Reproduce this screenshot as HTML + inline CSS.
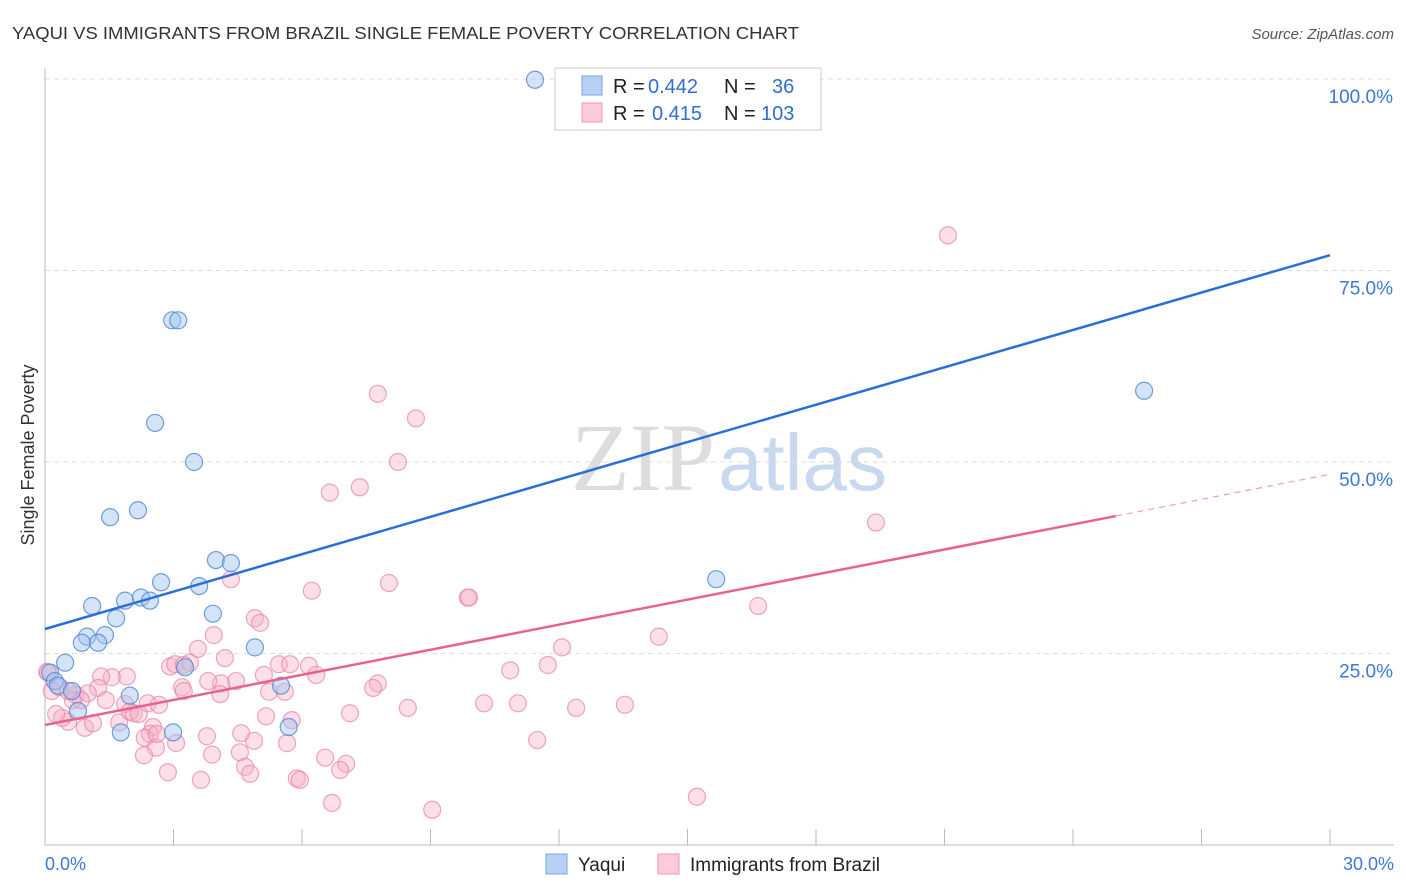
<!DOCTYPE html>
<html><head><meta charset="utf-8"><style>
body{margin:0;background:#fff;font-family:"Liberation Sans",sans-serif}
svg{display:block}
</style></head><body>
<svg id="c" width="1406" height="892">
<text x="12" y="39" font-size="17.5" fill="#333" textLength="787" lengthAdjust="spacingAndGlyphs">YAQUI VS IMMIGRANTS FROM BRAZIL SINGLE FEMALE POVERTY CORRELATION CHART</text>
<text x="1394" y="39" font-size="15" fill="#555" font-style="italic" text-anchor="end">Source: ZipAtlas.com</text>
<text x="34" y="455" font-size="18" fill="#333" transform="rotate(-90 34 455)" text-anchor="middle">Single Female Poverty</text>
<text x="715" y="490" font-size="96" font-family="Liberation Serif,serif" fill="#ddd" text-anchor="end">ZIP</text>
<text x="718" y="490" font-size="80" fill="#c8d8ef">atlas</text>
<g id="grid"></g><g id="pts"></g><g id="lines"></g>
<g>
<rect x="555" y="68" width="266" height="62" fill="#fff" stroke="#ccc"/>
<rect x="582" y="76" width="20" height="19" fill="#b7d0f3" stroke="#7aa6e0"/>
<rect x="582" y="103" width="20" height="19" fill="#fbcbd8" stroke="#ef9ab3"/>
<text x="613" y="93" font-size="20" fill="#222">R = <tspan x="648" fill="#2f6fce">0.442</tspan><tspan x="724">N =</tspan><tspan x="772" fill="#2f6fce">36</tspan></text>
<text x="613" y="120" font-size="20" fill="#222">R = <tspan x="652" fill="#2f6fce">0.415</tspan><tspan x="724">N =</tspan><tspan x="761" fill="#2f6fce">103</tspan></text>
</g>
<g>
<rect x="546" y="854" width="21" height="20" fill="#b7d0f3" stroke="#7aa6e0"/>
<text x="578" y="871" font-size="19" fill="#222">Yaqui</text>
<rect x="658" y="854" width="21" height="20" fill="#fbcbd8" stroke="#ef9ab3"/>
<text x="690" y="871" font-size="19" fill="#222">Immigrants from Brazil</text>
</g>
</svg>
<script>
const yTicks=[25,50,75,100];
const yTickLabels=["25.0%","50.0%","75.0%","100.0%"];
const xTickLabels=["0.0%","30.0%"];
const yaquiX=[11.44,2.97,3.11,2.57,3.48,1.52,2.17,3.99,4.34,2.71,3.6,1.1,1.87,2.24,2.45,3.92,1.66,0.98,1.4,0.86,1.24,4.9,0.47,0.12,0.23,0.3,0.63,1.98,0.77,3.27,5.51,1.77,2.99,5.69,15.67,25.66];
const yaquiY=[99.9,68.5,68.5,55.1,50,42.8,43.7,37.2,36.8,34.3,33.8,31.2,31.9,32.3,31.9,30.2,29.6,27.2,27.4,26.4,26.4,25.8,23.8,22.5,21.4,20.8,20.1,19.5,17.5,23.2,20.8,14.7,14.7,15.4,34.7,59.3];
const brX=[21.08,7.77,8.66,8.24,6.65,7.35,19.4,4.34,8.03,6.23,9.87,9.9,16.65,4.9,5.02,3.94,14.33,12.07,3.57,11.74,10.86,2.92,3.04,3.38,3.24,4.2,5.46,5.72,6.16,6.33,4.46,4.11,3.81,3.2,3.24,1.91,1.56,1.31,1.24,0.72,1.0,0.84,1.42,1.87,2.07,2.4,2.66,4.09,5.23,5.6,7.77,7.66,10.25,11.04,12.4,13.54,8.47,7.12,5.16,5.76,1.98,2.19,0.54,0.4,0.26,0.93,1.12,1.73,2.52,2.45,2.33,3.06,4.58,3.78,4.88,5.65,2.59,3.9,4.55,6.54,7.03,6.89,11.49,2.31,2.87,4.67,4.79,5.88,5.95,3.64,6.7,9.04,15.22,0.16,0.35,0.07,0.05,0.65,0.54,2.61,5.11];
const brY=[79.6,58.9,55.7,50,46,46.7,42.1,34.7,34.2,33.2,32.3,32.3,31.2,29.6,29,27.4,27.2,25.8,25.6,23.5,22.8,23.3,23.6,23.8,23.5,24.4,23.6,23.6,23.4,22.2,21.4,21.1,21.4,20.6,20.1,22,21.9,22,20.5,19.6,19.8,18.9,18.9,18.4,17.2,18.5,18.3,19.7,20,20,21.1,20.5,18.5,18.5,17.9,18.3,17.9,17.2,16.8,16.3,17.4,17.1,16.1,16.6,17.1,15.3,15.9,16,15.4,14.5,14,13.3,14.6,14.2,13.6,13.3,12.7,11.8,12.1,11.4,10.6,9.8,13.7,11.7,9.5,10.2,9.3,8.7,8.5,8.5,5.5,4.6,6.3,20.1,20.6,22.5,22.6,18.9,20.1,14.5,22.2];
const blueLine=[28.2,77.0];
const pinkLine=[15.67,48.4];
const pinkSolidEnd=25.0;
const X=v=>45+v/30*1285, Y=v=>845-v/100*766;
const NS="http://www.w3.org/2000/svg";
function mk(t,a,p){const e=document.createElementNS(NS,t);for(const k in a)e.setAttribute(k,a[k]);p.appendChild(e);return e;}
const grid=document.getElementById('grid');
yTicks.forEach((t,i)=>{
 const l=mk('line',{x1:45,x2:1394,y1:Y(t),y2:Y(t),stroke:'#ddd','stroke-dasharray':'5,4'},grid);
 
 
 const tx=mk('text',{x:1393,y:Y(t)+24,'font-size':19,fill:'#3b78d8','text-anchor':'end'},grid);
 tx.textContent=yTickLabels[i];
 
 
});
const ax=mk('line',{x1:45,x2:45,y1:68,y2:845,stroke:'#bbb'},grid);


const bx=mk('line',{x1:45,x2:1394,y1:845,y2:845,stroke:'#bbb'},grid);


for(let i=0;i<=10;i++){const t=mk('line',{x1:X(i*3),x2:X(i*3),y1:829,y2:845,stroke:'#bbb'},grid);
 
 }
[[0,45,'start'],[1,1394,'end']].forEach(([i,x,a])=>{const t=mk('text',{x:x,y:870,'font-size':18,fill:'#3b78d8','text-anchor':a},grid);t.textContent=xTickLabels[i];
 
 });
const pts=document.getElementById('pts');
brX.forEach((x,i)=>{const c=mk('circle',{cx:X(x),cy:Y(brY[i]),r:8.5,fill:'rgba(248,175,198,0.4)',stroke:'rgba(232,130,165,0.7)','stroke-width':1.2},pts);
 
 });
yaquiX.forEach((x,i)=>{const c=mk('circle',{cx:X(x),cy:Y(yaquiY[i]),r:8.5,fill:'rgba(160,196,240,0.45)',stroke:'rgba(80,135,210,0.8)','stroke-width':1.2},pts);
 
 });
const ln=document.getElementById('lines');
const b=mk('line',{x1:X(0),y1:Y(blueLine[0]),x2:X(30),y2:Y(blueLine[1]),stroke:'#2a6fd6','stroke-width':2.5},ln);


const pe=pinkLine[0]+(pinkLine[1]-pinkLine[0])*pinkSolidEnd/30;
const p=mk('line',{x1:X(0),y1:Y(pinkLine[0]),x2:X(pinkSolidEnd),y2:Y(pe),stroke:'#e8628f','stroke-width':2.5},ln);


const pd=mk('line',{x1:X(pinkSolidEnd),y1:Y(pe),x2:X(30),y2:Y(pinkLine[1]),stroke:'#eea0ba','stroke-width':1.2,'stroke-dasharray':'6,5'},ln);


</script>
</body></html>
